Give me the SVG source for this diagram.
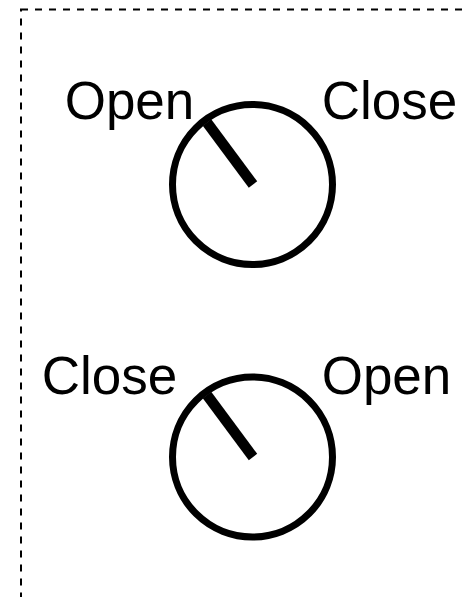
<svg xmlns="http://www.w3.org/2000/svg" width="467" height="597" viewBox="0 0 467 597">
  <style>
    .lbl { font-family: "Liberation Sans", Arial, sans-serif; font-size: 53px; fill: #000; text-anchor: middle; }
    .dial { fill: none; stroke: #000; stroke-width: 7; }
    .needle { stroke: #000; stroke-width: 10.5; stroke-linecap: butt; }
    .frame { fill: none; stroke: #000; stroke-width: 2; stroke-dasharray: 7 7; }
  </style>
  <rect width="467" height="597" fill="#fff"/>
  <g id="frame">
    <rect class="frame" x="21" y="9.5" width="480" height="620"/>
  </g>
  <g id="dial-top">
    <circle class="dial" cx="252.5" cy="184.5" r="80"/>
    <line class="needle" x1="253" y1="184.5" x2="207" y2="122.5"/>
    <text class="lbl" x="129.5" y="118.5">Open</text>
    <text class="lbl" x="389.5" y="118.5">Close</text>
  </g>
  <g id="dial-bottom">
    <circle class="dial" cx="252.5" cy="457" r="80"/>
    <line class="needle" x1="253" y1="457" x2="207" y2="395"/>
    <text class="lbl" x="109.5" y="393.5">Close</text>
    <text class="lbl" x="386.5" y="393.5">Open</text>
  </g>
  <g id="connectors"/>
</svg>
